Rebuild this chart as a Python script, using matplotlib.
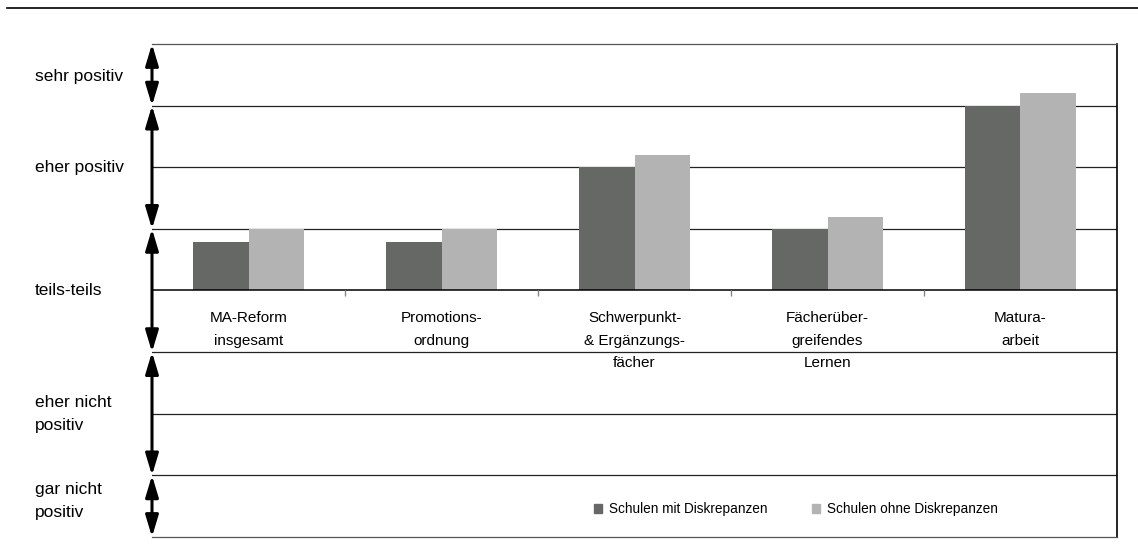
import matplotlib.pyplot as plt
from matplotlib.lines import Line2D
from matplotlib.patches import Patch

plt.rcParams['font.family'] = ['Liberation Sans', 'DejaVu Sans']

# Data (scale 1 = gar nicht positiv ... 5 = sehr positiv, bars start at teils-teils)
categories = ['MA-Reform\ninsgesamt', 'Promotions-\nordnung', 'Schwerpunkt-\n& Ergänzungs-\nfächer',
              'Fächerüber-\ngreifendes\nLernen', 'Matura-\narbeit']
mit_diskrepanzen = [3.39, 3.39, 4.0, 3.5, 4.5]
ohne_diskrepanzen = [3.5, 3.5, 4.1, 3.6, 4.6]
series_names = ['Schulen mit Diskrepanzen', 'Schulen ohne Diskrepanzen']

scale_labels = ['sehr positiv', 'eher positiv', 'teils-teils', 'eher nicht\npositiv', 'gar nicht\npositiv']
scale_ranges = [(4.5, 5.0), (3.5, 4.5), (2.5, 3.5), (1.5, 2.5), (1.0, 1.5)]
label_pos = [4.74, 4.0, 3.0, 2.0, 1.29]
baseline = 3.0

dark = '#666866'
light = '#b3b3b3'

fig = plt.figure(figsize=(11.38, 5.49), dpi=100)
ax = fig.add_axes([152 / 1138, 1 - 537 / 549, (1117 - 152) / 1138, (537 - 44) / 549])

x = list(range(len(categories)))
w = 0.29
ax.bar([i - w / 2 for i in x], [v - baseline for v in mit_diskrepanzen], w, bottom=baseline,
       color=dark, zorder=3)
ax.bar([i + w / 2 for i in x], [v - baseline for v in ohne_diskrepanzen], w, bottom=baseline,
       color=light, zorder=3)

ax.set_xlim(-0.5, 4.5)
ax.set_ylim(1, 5)

# horizontal grid lines
for y in [1.5, 2.0, 2.5, 3.5, 4.0, 4.5]:
    ax.axhline(y, color='#222222', lw=0.9, zorder=1)
ax.axhline(baseline, color='black', lw=1.1, zorder=4)

for s in ['top', 'bottom']:
    ax.spines[s].set_color('#555555')
    ax.spines[s].set_linewidth(0.9)
ax.spines['right'].set_color('black')
ax.spines['right'].set_linewidth(1.2)
ax.spines['left'].set_visible(False)
ax.set_xticks([])
ax.set_yticks([])

# small separators under the baseline between categories
ax.vlines([i + 0.5 for i in x[:-1]], baseline - 0.045, baseline, color='#888888', lw=1, zorder=4)

# category labels under the baseline
for i, lab in zip(x, categories):
    ax.text(i, baseline - 0.17, lab, ha='center', va='top', fontsize=11, linespacing=1.75)

# double arrows on the left axis and scale labels
for (lo, hi), lab, ypos in zip(scale_ranges, scale_labels, label_pos):
    ax.annotate('', xy=(0, hi), xytext=(0, lo), xycoords=('axes fraction', 'data'),
                arrowprops=dict(arrowstyle='<|-|>,head_length=1.0,head_width=0.3',
                                mutation_scale=13, color='black', lw=2.2,
                                shrinkA=0, shrinkB=0),
                annotation_clip=False, zorder=5)
    ax.text(-117 / 965, ypos, lab, transform=ax.get_yaxis_transform(),
            ha='left', va='center', fontsize=12.5, linespacing=1.68)

# top rule across the page
fig.add_artist(Line2D([7 / 1138, 1.0], [1 - 8 / 549] * 2, color='black', lw=1.2))

handles = [Patch(color=dark), Patch(color=light)]
ax.legend(handles, series_names, loc='center', bbox_to_anchor=(0.667, 0.056), ncol=2,
          frameon=False, fontsize=9.8, handlelength=0.6, handleheight=0.6,
          handletextpad=0.5, columnspacing=3.3)

fig.savefig('out.png', dpi=100)
